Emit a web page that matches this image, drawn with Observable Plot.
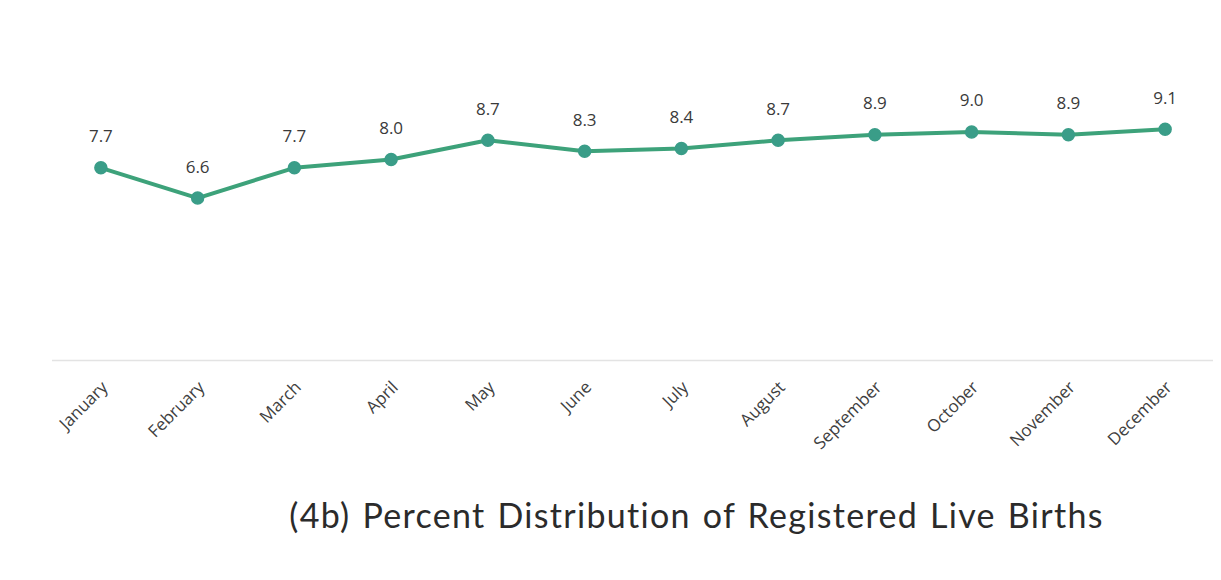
<!DOCTYPE html>
<html>
<head>
<meta charset="utf-8">
<script src="https://cdn.jsdelivr.net/npm/d3@7"></script>
<script src="https://cdn.jsdelivr.net/npm/@observablehq/plot@0.6"></script>
<style>
  html, body { margin: 0; padding: 0; background: #ffffff; }
  #wrap { width: 1221px; height: 580px; position: relative; overflow: hidden; }
  #title { position: absolute; left: 0; width: 1221px; top: 494px; text-align: center; padding-left: 172px; box-sizing: border-box;
    font-family: "Lato", "Noto Sans", sans-serif; font-size: 34px; color: #2b2b2b; letter-spacing: 1.3px; word-spacing: 2px; }
</style>
</head>
<body>
<div id="wrap">
  <div id="chart"></div>
  <div id="title">(4b) Percent Distribution of Registered Live Births</div>
</div>
<script>
const months = ["January","February","March","April","May","June","July","August","September","October","November","December"];
const percents = [7.7, 6.6, 7.7, 8.0, 8.7, 8.3, 8.4, 8.7, 8.9, 9.0, 8.9, 9.1];
const labels = ["7.7","6.6","7.7","8.0","8.7","8.3","8.4","8.7","8.9","9.0","8.9","9.1"];

const data = months.map((m, i) => ({month: m, value: percents[i], label: labels[i]}));

const chart = Plot.plot({
  width: 1221,
  height: 480,
  marginLeft: 52,
  marginRight: 8,
  marginTop: 104,
  marginBottom: 120,
  style: {background: "transparent", fontFamily: "'Open Sans', sans-serif"},
  x: {type: "point", domain: months, padding: 0.5, round: false, label: null},
  y: {domain: [0.7, 10], axis: null},
  marks: [
    Plot.ruleY([0.7], {stroke: "#e3e3e3", strokeWidth: 1.5}),
    Plot.axisX({tickSize: 0, tickPadding: 24, tickRotate: -45, fontSize: 17, fill: "#404040", label: null, dx: 4}),
    Plot.line(data, {x: "month", y: "value", stroke: "#3da27a", strokeWidth: 4}),
    Plot.dot(data, {x: "month", y: "value", r: 6, fill: "#3a9d88", stroke: "#3a9d88"}),
    Plot.text(data, {x: "month", y: "value", text: "label", dy: -31, fontSize: 17, fill: "#3a3a3a"})
  ]
});
document.getElementById("chart").appendChild(chart);
</script>
</body>
</html>
